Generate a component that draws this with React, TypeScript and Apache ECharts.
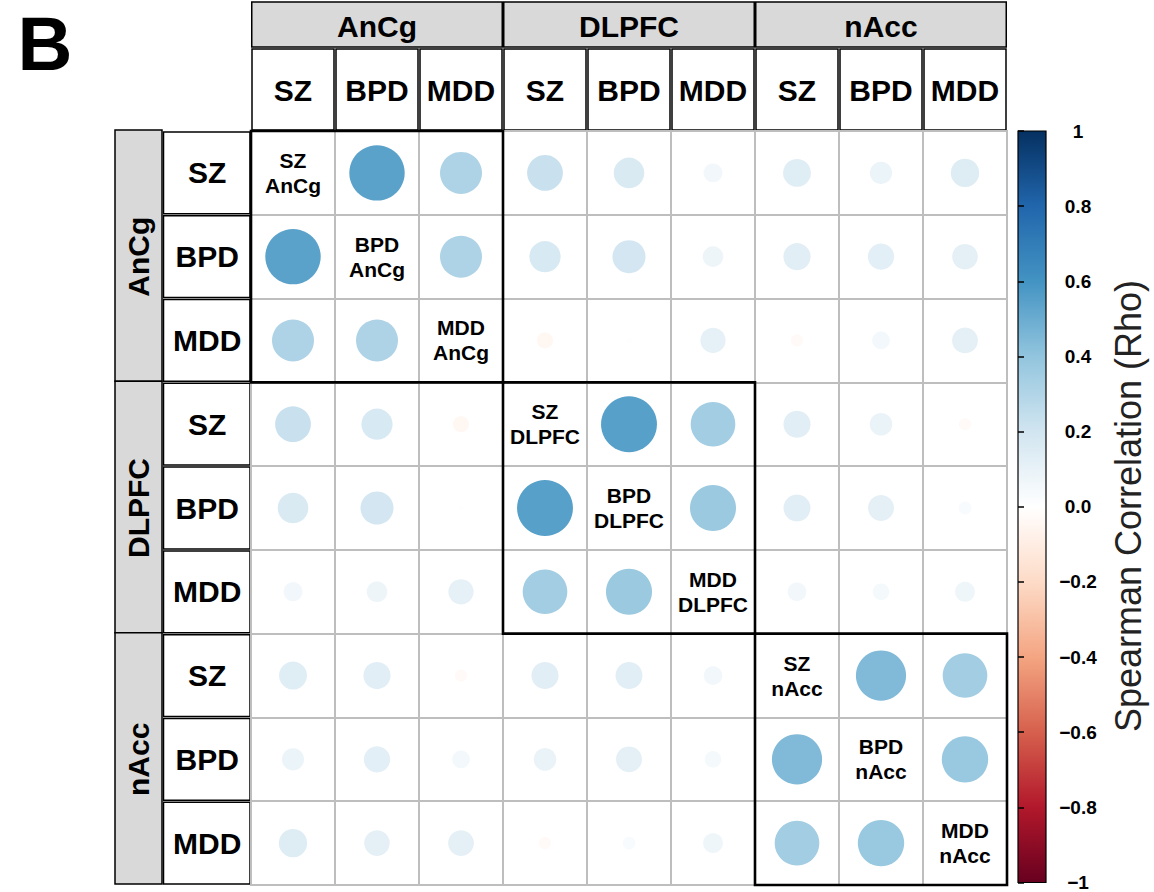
import React, { useEffect, useRef } from "react";
import * as echarts from "echarts";

// ---------- data ----------
const regions = ["AnCg", "DLPFC", "nAcc"];
const disorders = ["SZ", "BPD", "MDD"];

// Spearman rho, rows/cols ordered AnCg(SZ,BPD,MDD), DLPFC(SZ,BPD,MDD), nAcc(SZ,BPD,MDD); diagonal = null (labelled)
const rhoAnCgSZ = [null, 0.54, 0.31, 0.225, 0.165, 0.063, 0.137, 0.086, 0.142];
const rhoAnCgBPD = [0.54, null, 0.31, 0.172, 0.192, 0.075, 0.13, 0.121, 0.115];
const rhoAnCgMDD = [0.31, 0.31, null, -0.045, 0.006, 0.112, -0.026, 0.055, 0.117];
const rhoDLPFCSZ = [0.225, 0.172, -0.045, null, 0.55, 0.35, 0.129, 0.09, -0.026];
const rhoDLPFCBPD = [0.165, 0.192, 0.006, 0.55, null, 0.373, 0.128, 0.118, 0.029];
const rhoDLPFCMDD = [0.063, 0.075, 0.112, 0.35, 0.373, null, 0.061, 0.048, 0.07];
const rhoNAccSZ = [0.137, 0.13, -0.026, 0.129, 0.128, 0.061, null, 0.443, 0.35];
const rhoNAccBPD = [0.086, 0.121, 0.055, 0.09, 0.118, 0.048, 0.443, null, 0.378];
const rhoNAccMDD = [0.142, 0.115, 0.117, -0.026, 0.029, 0.07, 0.35, 0.378, null];

const rhoRows = [
  rhoAnCgSZ, rhoAnCgBPD, rhoAnCgMDD,
  rhoDLPFCSZ, rhoDLPFCBPD, rhoDLPFCMDD,
  rhoNAccSZ, rhoNAccBPD, rhoNAccMDD,
];

const colorbarMin = -1;
const colorbarMax = 1;
const colorbarStep = 0.2;
const colorbarTitle = "Spearman Correlation (Rho)";
const panelLetter = "B";

// RdBu palette from -1 to 1
const rdbu = ["#67001F", "#B2182B", "#D6604D", "#F4A582", "#FDDBC7", "#FFFFFF", "#D1E5F0", "#92C5DE", "#4393C3", "#2166AC", "#053061"];

// ---------- layout ----------
const W = 1154;
const H = 892;
const GL = 251;
const GT = 131;
const GW = 756;
const GH = 754;
const N = regions.length * disorders.length;
const CW = GW / N;
const CH = GH / N;
const FONT = "'Liberation Sans', Arial, Helvetica, sans-serif";

const cells = regions.flatMap((r) => disorders.map((d) => ({ region: r, disorder: d })));
const cats = cells.map((c) => `${c.disorder} ${c.region}`);

function buildOption() {
  const pts: any[] = [];
  rhoRows.forEach((row, i) => {
    row.forEach((v, j) => {
      if (v !== null) pts.push([j, i, v]);
    });
  });
  const diag = cells.map((c, i) => [i, i, c.disorder, c.region]);
  const blocks = regions.map((r, k) => [k * disorders.length, (k + 1) * disorders.length]);

  const graphics: any[] = [];
  graphics.push({
    type: "text",
    x: 45,
    y: 43,
    style: { text: panelLetter, font: `bold 76px ${FONT}`, fill: "#000", align: "center", verticalAlign: "middle" },
  });
  const nd = disorders.length;
  regions.forEach((r, k) => {
    const x0 = GL + k * nd * CW;
    graphics.push({
      type: "rect",
      shape: { x: x0 + 0.75, y: 2, width: nd * CW - 1.5, height: 45 },
      style: { fill: "#d9d9d9", stroke: "#000", lineWidth: 1.5 },
    });
    graphics.push({
      type: "text",
      x: x0 + (nd * CW) / 2,
      y: 26,
      style: { text: r, font: `bold 30px ${FONT}`, fill: "#000", align: "center", verticalAlign: "middle" },
    });
    const y0 = GT + k * nd * CH;
    graphics.push({
      type: "rect",
      shape: { x: 115, y: y0 - 1, width: 47, height: nd * CH },
      style: { fill: "#d9d9d9", stroke: "#000", lineWidth: 1.5 },
    });
    graphics.push({
      type: "text",
      x: 138.5,
      y: y0 + (nd * CH) / 2,
      rotation: Math.PI / 2,
      style: { text: r, font: `bold 30px ${FONT}`, fill: "#000", align: "center", verticalAlign: "middle" },
    });
  });
  cells.forEach((c, i) => {
    const x0 = GL + i * CW;
    graphics.push({
      type: "rect",
      shape: { x: x0 + 1, y: 49, width: CW - 2, height: GT - 50 },
      style: { fill: "#fff", stroke: "#000", lineWidth: 1.5 },
    });
    graphics.push({
      type: "text",
      x: x0 + CW / 2,
      y: 90,
      style: { text: c.disorder, font: `bold 30px ${FONT}`, fill: "#000", align: "center", verticalAlign: "middle" },
    });
    const y0 = GT + i * CH;
    graphics.push({
      type: "rect",
      shape: { x: 163.5, y: y0 + 1, width: GL - 164.5, height: CH - 2 },
      style: { fill: "#fff", stroke: "#000", lineWidth: 1.5 },
    });
    graphics.push({
      type: "text",
      x: (163.5 + GL) / 2,
      y: y0 + CH / 2,
      style: { text: c.disorder, font: `bold 30px ${FONT}`, fill: "#000", align: "center", verticalAlign: "middle" },
    });
  });
  graphics.push({
    type: "text",
    x: 1128,
    y: 506,
    rotation: Math.PI / 2,
    style: { text: colorbarTitle, font: `normal 36px ${FONT}`, fill: "#222", align: "center", verticalAlign: "middle" },
  });

  const fmtTick = (v: number) => {
    const r = Math.round(v * 10) / 10;
    if (Math.abs(r) === 1) return r < 0 ? "\u22121" : "1";
    return (r < 0 ? "\u2212" : "") + Math.abs(r).toFixed(1);
  };

  const barGradient = new echarts.graphic.LinearGradient(
    0, 0, 0, 1,
    rdbu.slice().reverse().map((c, i) => ({ offset: i / (rdbu.length - 1), color: c }))
  );

  return {
    animation: false,
    backgroundColor: "#fff",
    textStyle: { fontFamily: FONT },
    grid: [
      { left: GL, top: GT, width: GW, height: GH, show: true, borderColor: "#bebebe", borderWidth: 2, backgroundColor: "#fff", z: 0 },
      { left: 1018, top: GT, width: 28, height: GH, show: true, borderColor: "#000", borderWidth: 1.2, backgroundColor: barGradient },
    ],
    xAxis: [
      {
        type: "category",
        gridIndex: 0,
        data: cats,
        boundaryGap: true,
        axisLine: { show: false },
        axisTick: { show: false },
        axisLabel: { show: false, interval: 0 },
        splitLine: { show: true, interval: 0, lineStyle: { color: "#bebebe", width: 2 } },
      },
      { type: "value", gridIndex: 0, min: 0, max: N, show: false },
      { type: "value", gridIndex: 1, min: 0, max: 1, show: false },
    ],
    yAxis: [
      {
        type: "category",
        gridIndex: 0,
        data: cats,
        inverse: true,
        boundaryGap: true,
        axisLine: { show: false },
        axisTick: { show: false },
        axisLabel: { show: false, interval: 0 },
        splitLine: { show: true, interval: 0, lineStyle: { color: "#bebebe", width: 2 } },
      },
      { type: "value", gridIndex: 0, min: 0, max: N, inverse: true, show: false },
      {
        type: "value",
        gridIndex: 1,
        min: colorbarMin,
        max: colorbarMax,
        interval: colorbarStep,
        position: "right",
        axisLine: { show: false },
        axisTick: { show: true, length: 6, lineStyle: { color: "#000", width: 1.5 } },
        splitLine: { show: false },
        axisLabel: {
          show: true,
          formatter: fmtTick,
          align: "center",
          margin: 32,
          color: "#000",
          fontWeight: "bold",
          fontSize: 19,
          fontFamily: FONT,
        },
      },
    ],
    visualMap: {
      type: "continuous",
      show: false,
      min: colorbarMin,
      max: colorbarMax,
      dimension: 2,
      seriesIndex: 0,
      inRange: { color: rdbu },
    },
    graphic: graphics,
    series: [
      {
        type: "scatter",
        xAxisIndex: 0,
        yAxisIndex: 0,
        data: pts,
        symbol: "circle",
        symbolSize: (val: number[]) => 0.9 * Math.min(CW, CH) * Math.sqrt(Math.abs(val[2])),
        itemStyle: { opacity: 1 },
        silent: true,
        z: 3,
      },
      {
        type: "scatter",
        xAxisIndex: 0,
        yAxisIndex: 0,
        data: diag,
        symbolSize: 1,
        itemStyle: { color: "rgba(255,255,255,0)", opacity: 1 },
        silent: true,
        z: 4,
        label: {
          show: true,
          position: "inside",
          formatter: (p: any) => `${p.value[2]}\n${p.value[3]}`,
          color: "#000",
          opacity: 1,
          textBorderWidth: 0,
          fontWeight: "bold",
          fontSize: 21,
          lineHeight: 25,
          fontFamily: FONT,
        },
      },
      {
        type: "custom",
        xAxisIndex: 1,
        yAxisIndex: 1,
        data: blocks,
        clip: false,
        silent: true,
        z: 5,
        renderItem: (params: any, api: any) => {
          const a = api.value(0);
          const b = api.value(1);
          const p0 = api.coord([a, a]);
          const p1 = api.coord([b, b]);
          return {
            type: "rect",
            shape: {
              x: Math.min(p0[0], p1[0]),
              y: Math.min(p0[1], p1[1]),
              width: Math.abs(p1[0] - p0[0]),
              height: Math.abs(p1[1] - p0[1]),
            },
            style: { fill: "none", stroke: "#000", lineWidth: 2.6 },
          };
        },
      },
    ],
  };
}

export default function App() {
  const ref = useRef<HTMLDivElement>(null);
  useEffect(() => {
    if (!ref.current) return;
    const chart = echarts.init(ref.current, undefined, { renderer: "svg" });
    chart.setOption(buildOption() as any);
    return () => chart.dispose();
  }, []);
  return (
    <div
      ref={ref}
      style={{ position: "absolute", left: 0, top: 0, width: W, height: H, background: "#fff" }}
    />
  );
}
